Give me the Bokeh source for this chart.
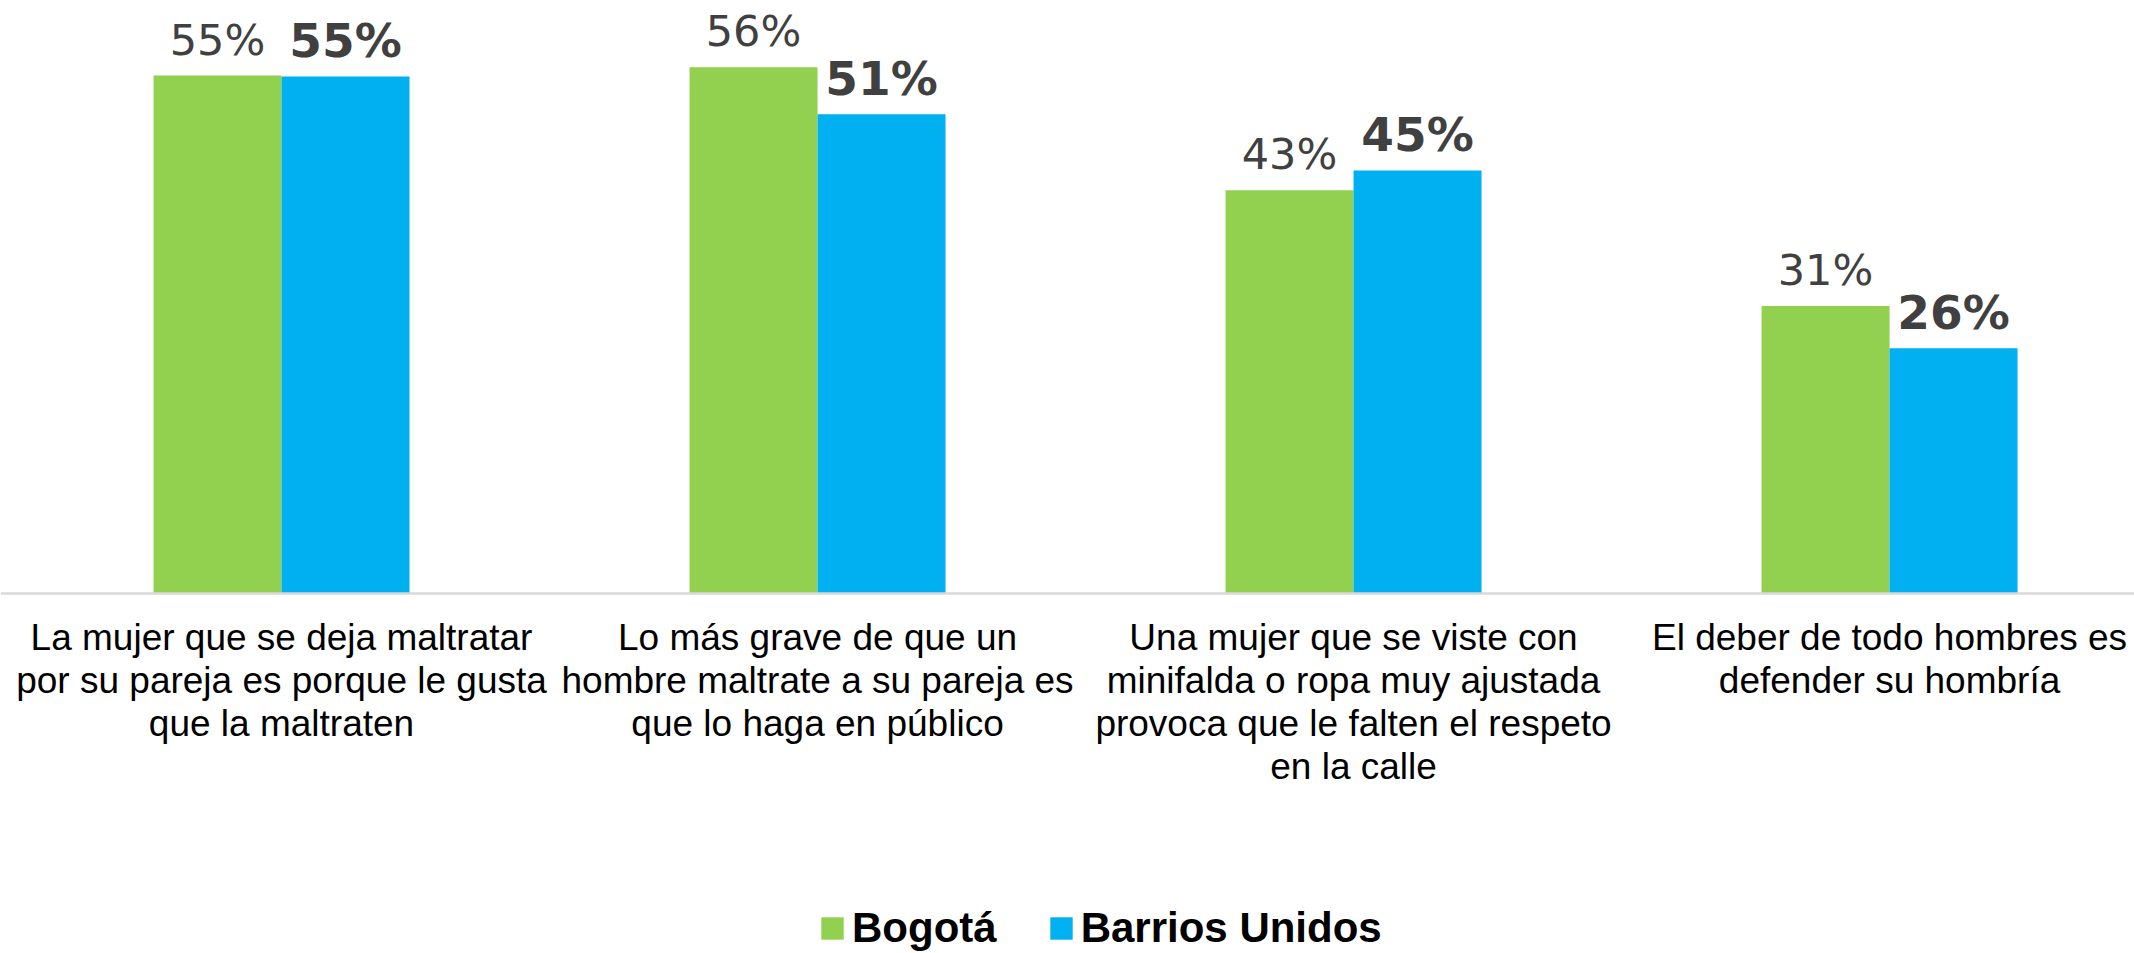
from bokeh.plotting import figure
from bokeh.models import ColumnDataSource, Range1d, Span, Legend, LegendItem
from bokeh.transform import dodge
from bokeh.core.properties import value
from bokeh.embed import file_html
from bokeh.resources import INLINE

categories = [
    "La mujer que se deja maltratar\npor su pareja es porque le gusta\nque la maltraten",
    "Lo más grave de que un\nhombre maltrate a su pareja es\nque lo haga en público",
    "Una mujer que se viste con\nminifalda o ropa muy ajustada\nprovoca que le falten el respeto\nen la calle",
    "El deber de todo hombres es\ndefender su hombría",
]
series_names = ["Bogotá", "Barrios Unidos"]
bogota = [55.1, 56.0, 42.9, 30.6]
barrios = [55.0, 51.0, 45.0, 26.1]

GREEN = "#92D050"
BLUE = "#00B0F0"

xs = list(range(len(categories)))
src = ColumnDataSource(dict(
    x=xs,
    cat=categories,
    bog=bogota,
    bar=barrios,
    bog_lbl=[f"{round(v)}%" for v in bogota],
    bar_lbl=[f"{round(v)}%" for v in barrios],
    zero=[0] * len(xs),
))

W, H = 2134, 953
p = figure(width=W, height=H, output_backend="svg", toolbar_location=None,
           x_range=Range1d(-0.5243, 3.457), y_range=Range1d(-38.30, 63.09),
           min_border=0, min_border_left=0, min_border_right=0,
           min_border_top=0, min_border_bottom=0)
p.axis.visible = False
p.grid.visible = False
p.outline_line_color = None
p.background_fill_color = "white"
p.border_fill_color = "white"

bw = 0.2388
off = bw / 2

p.add_layout(Span(location=0, dimension="width", line_color="#D9D9D9", line_width=2.5))

r1 = p.vbar(x=dodge("x", -off, range=p.x_range), top="bog", bottom=0, width=bw,
            source=src, fill_color=GREEN, line_color=None)
r2 = p.vbar(x=dodge("x", off, range=p.x_range), top="bar", bottom=0, width=bw,
            source=src, fill_color=BLUE, line_color=None)

p.text(x=dodge("x", -off, range=p.x_range), y="bog", text="bog_lbl", source=src,
       text_font=value("DejaVu Sans"), text_font_size="43px", text_color="#404040",
       text_align="center", text_baseline="alphabetic", y_offset=-36)
p.text(x=dodge("x", off, range=p.x_range), y="bar", text="bar_lbl", source=src,
       text_font=value("DejaVu Sans"), text_font_style="bold", text_font_size="47px",
       text_color="#404040", text_align="center", text_baseline="alphabetic", y_offset=-36)

p.text(x="x", y="zero", text="cat", source=src,
       text_font=value("Liberation Sans"), text_font_size="37px", text_color="#000000",
       text_align="center", text_baseline="top", y_offset=23, text_line_height=1.05)

legend = Legend(items=[LegendItem(label=series_names[0], renderers=[r1]),
                       LegendItem(label=series_names[1], renderers=[r2])],
                orientation="horizontal", location=(818, 1),
                glyph_width=28, glyph_height=28, label_standoff=6, spacing=50,
                padding=0, margin=0, border_line_alpha=0, background_fill_alpha=0,
                label_text_font="Liberation Sans", label_text_font_style="bold",
                label_text_font_size="42px", label_text_color="#000000",
                label_height=28)
p.add_layout(legend)

open("out.html", "w").write(file_html(p, INLINE))
